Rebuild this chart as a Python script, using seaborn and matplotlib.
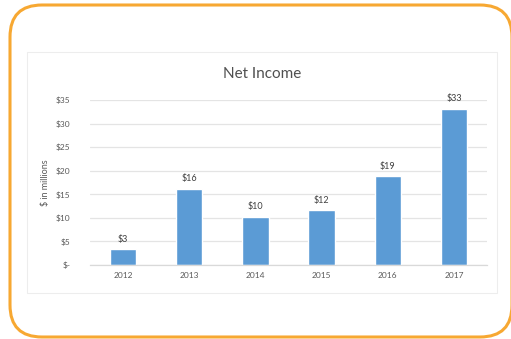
import matplotlib
matplotlib.use("Agg")
import matplotlib.pyplot as plt
from matplotlib.patches import FancyBboxPatch, Rectangle
import seaborn as sns
import pandas as pd

# Net income by year, $ millions
years = ["2012", "2013", "2014", "2015", "2016", "2017"]
net_income = [3.3, 16.2, 10.2, 11.6, 18.8, 33.1]
y_ticks = [0, 5, 10, 15, 20, 25, 30, 35]
y_tick_labels = ["$-", "$5", "$10", "$15", "$20", "$25", "$30", "$35"]

sns.set_style("white")
plt.rcParams["font.family"] = ["Lato", "DejaVu Sans"]

W, H = 511, 339
fig = plt.figure(figsize=(W / 100, H / 100), dpi=100)
fig.patch.set_facecolor("white")

# background layer in pixel units for the frame and chart-area border
bg = fig.add_axes([0, 0, 1, 1], zorder=-5)
bg.set_xlim(0, W)
bg.set_ylim(H, 0)
bg.axis("off")
bg.add_patch(FancyBboxPatch((10, 5), 502, 332,
                            boxstyle="round,pad=0,rounding_size=32",
                            facecolor="none", edgecolor="#F7A832",
                            linewidth=2.2, clip_on=False))
bg.add_patch(Rectangle((27, 52), 470, 241, facecolor="none",
                       edgecolor="#EDEDED", linewidth=0.8))

ax = fig.add_axes([90 / W, 1 - 265 / H, (487 - 90) / W, (265 - 100) / H])
ax.patch.set_alpha(0)
df = pd.DataFrame({"year": years, "income": net_income})
sns.barplot(data=df, x="year", y="income", color="#5B9BD5", width=0.4,
            saturation=1, ax=ax)

ax.set_ylim(0, 35)
ax.set_xlim(-0.5, 5.5)
ax.set_yticks(y_ticks)
ax.set_yticklabels(y_tick_labels)
ax.yaxis.grid(True, color="#E4E4E4", linewidth=0.9)
ax.set_axisbelow(True)
for s in ["top", "right", "left"]:
    ax.spines[s].set_visible(False)
ax.spines["bottom"].set_color("#D9D9D9")
ax.spines["bottom"].set_linewidth(0.9)
ax.tick_params(axis="both", length=0, labelsize=6, labelcolor="#595959")
ax.tick_params(axis="y", pad=14)
ax.tick_params(axis="x", pad=5)
ax.set_xlabel("")
ax.set_ylabel("$ in millions", fontsize=6.5, color="#595959", labelpad=4)

for i, v in enumerate(net_income):
    ax.text(i, v + 1.2, f"${v:.0f}", ha="center", va="bottom",
            fontsize=6.5, color="#404040")

fig.text(262 / W, 1 - 74 / H, "Net Income", ha="center", va="center",
         fontsize=11, color="#505050")

fig.savefig("out.png", dpi=100, facecolor="white")
